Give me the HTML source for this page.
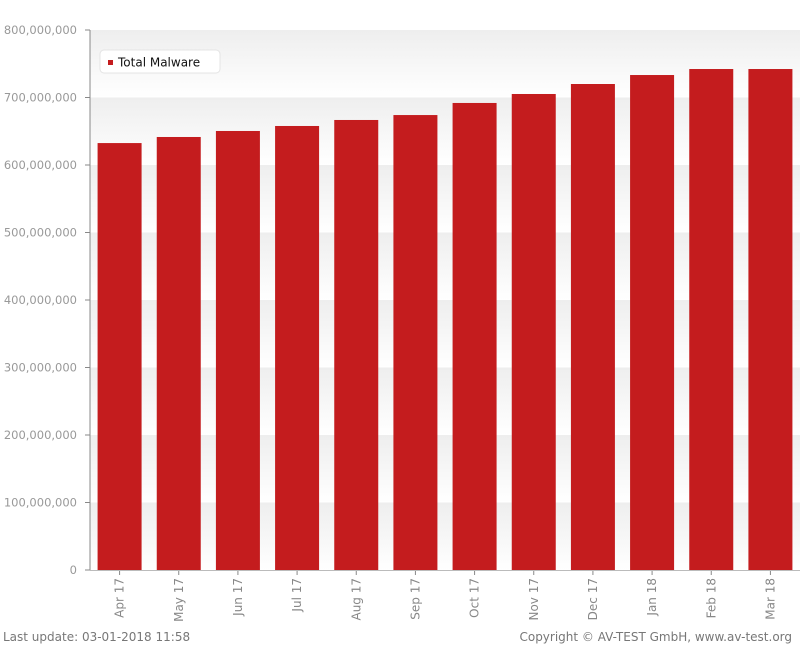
<!DOCTYPE html>
<html><head><meta charset="utf-8"><style>
body{margin:0;background:#fff;width:800px;height:645px;overflow:hidden;font-family:"DejaVu Sans","Liberation Sans",sans-serif}
</style></head><body>
<svg id="chart" width="800" height="645" xmlns="http://www.w3.org/2000/svg" style="display:block">
<defs><linearGradient id="band" x1="0" y1="0" x2="0" y2="1"><stop offset="0" stop-color="#eeeeee"/><stop offset="1" stop-color="#ffffff"/></linearGradient></defs>
<g id="bands"></g><g id="bars"></g><g id="axes"></g>
<g>
<rect x="100" y="50" width="120" height="23" rx="4" fill="#fff" stroke="#e4e4e4"/>
<rect x="108" y="60" width="5" height="5" fill="#c41c1e"/>
<text x="118" y="66.5" font-size="12" fill="#111">Total Malware</text>
</g>
<text x="3" y="641" font-size="12" fill="#777">Last update: 03-01-2018 11:58</text>
<text x="792" y="641" font-size="12" fill="#777" text-anchor="end">Copyright © AV-TEST GmbH, www.av-test.org</text>
</svg>
<script>
const categories=["Apr 17","May 17","Jun 17","Jul 17","Aug 17","Sep 17","Oct 17","Nov 17","Dec 17","Jan 18","Feb 18","Mar 18"];
const values=[632.5,641.5,650.4,657.8,666.7,674,691.9,705.2,720,733.3,742.2,742.2];
const tickValues=[0,100,200,300,400,500,600,700,800];
const tickLabels=["0","100,000,000","200,000,000","300,000,000","400,000,000","500,000,000","600,000,000","700,000,000","800,000,000"];
const NS="http://www.w3.org/2000/svg";
const x0=90,x1=800,yTop=30,yBot=570,yMax=800;
const y=v=>yBot-(v/yMax)*(yBot-yTop);
const slot=(x1-x0)/categories.length;
function mk(t,a,p,txt){const e=document.createElementNS(NS,t);for(const k in a)e.setAttribute(k,a[k]);if(txt!==undefined)e.textContent=txt;p.appendChild(e);return e;}
const bands=document.getElementById('bands'),bars=document.getElementById('bars'),axes=document.getElementById('axes');
for(let i=0;i<tickValues.length-1;i++){
  const r=mk('rect',{x:x0,y:y(tickValues[i+1]),width:x1-x0,height:y(tickValues[i])-y(tickValues[i+1]),fill:'url(#band)'},bands);
  
  
}
values.forEach((v,i)=>{
  const cx=x0+slot*(i+0.5);
  const b=mk('rect',{x:cx-22,y:y(v),width:44,height:yBot-y(v),fill:'#c41c1e'},bars);
  
  
  mk('line',{x1:cx,y1:yBot,x2:cx,y2:yBot+5,stroke:'#888'},axes);
  const t=mk('text',{x:0,y:0,'font-size':12,fill:'#888','text-anchor':'end',transform:`translate(${cx+4},${yBot+8}) rotate(-90)`},axes,categories[i]);
  
  
});
tickValues.forEach((v,i)=>{
  mk('line',{x1:x0-5,y1:y(v),x2:x0,y2:y(v),stroke:'#888'},axes);
  const t=mk('text',{x:77,y:y(v)+4,'font-size':11.5,fill:'#999','text-anchor':'end'},axes,tickLabels[i]);
  
  
});
mk('line',{x1:x0,y1:yTop,x2:x0,y2:yBot,stroke:'#888'},axes);
mk('line',{x1:x0,y1:yBot+0.5,x2:x1,y2:yBot+0.5,stroke:'#bbb'},axes);
</script>
</body></html>
